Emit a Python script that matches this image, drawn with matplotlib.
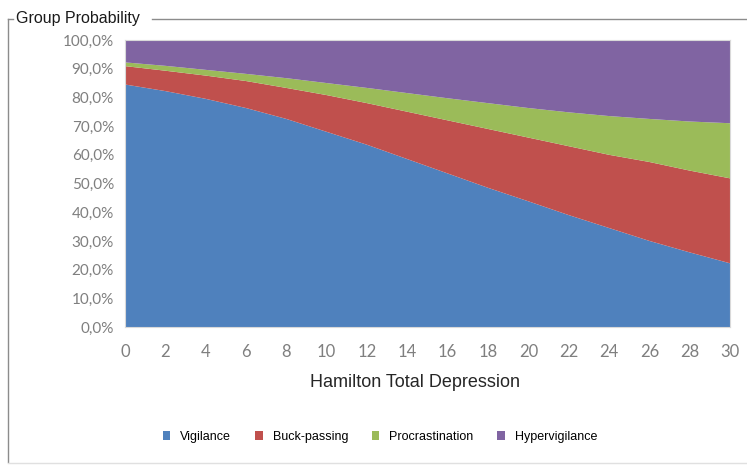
import numpy as np
import matplotlib.pyplot as plt
from matplotlib.lines import Line2D
from matplotlib.patches import Patch

# values (percent of group probability)
depression = [0, 2, 4, 6, 8, 10, 12, 14, 16, 18, 20, 22, 24, 26, 28, 30]
vigilance = [84.5, 82.2, 79.5, 76.3, 72.5, 68.0, 63.5, 58.5, 53.5, 48.5, 43.8, 39.0, 34.5, 30.0, 26.0, 22.2]
buck_passing = [6.4, 7.1, 8.1, 9.4, 10.8, 12.8, 14.5, 16.5, 18.5, 20.5, 22.2, 24.0, 25.5, 27.5, 28.5, 29.6]
procrastination = [1.3, 1.7, 2.0, 2.5, 3.4, 4.2, 5.3, 6.5, 7.7, 9.0, 10.3, 11.8, 13.5, 15.0, 17.1, 19.2]
hypervigilance = [7.8, 9.0, 10.4, 11.8, 13.3, 15.0, 16.7, 18.5, 20.3, 22.0, 23.7, 25.2, 26.5, 27.5, 28.4, 29.0]

labels = ["Vigilance", "Buck-passing", "Procrastination", "Hypervigilance"]
colors = ["#4F81BD", "#C0504D", "#9BBB59", "#8064A2"]

fig = plt.figure(figsize=(7.47, 4.66), dpi=100)
ax = fig.add_axes([125 / 747, 1 - 327 / 466, 605 / 747, 287 / 466])

ax.stackplot(depression, vigilance, buck_passing, procrastination, hypervigilance,
             colors=colors, linewidth=0)

ax.set_xlim(0, 30)
ax.set_ylim(0, 100)
ax.set_xticks(range(0, 31, 2))
ax.set_yticks(range(0, 101, 10))
ax.set_yticklabels([f"{v},0%" for v in range(0, 101, 10)])
ax.tick_params(length=0, colors="#7f7f7f", labelsize=11, pad=8)
ax.tick_params(axis="x", labelsize=12, pad=12)
for lab in ax.get_xticklabels() + ax.get_yticklabels():
    lab.set_family("Lato")
for s in ax.spines.values():
    s.set_color("#d9d9d9")
    s.set_linewidth(0.8)

ax.set_xlabel("Hamilton Total Depression", fontsize=13, family="Liberation Sans",
              color="#262626", labelpad=12)
ax.xaxis.set_label_coords((415 - 125) / 605, -0.165)

# outer frame around the chart
frame = dict(color="#8c8c8c", linewidth=1.0, transform=fig.transFigure)
fig.add_artist(Line2D([8 / 747, 8 / 747], [1 - 19 / 466, 1 - 462 / 466], **frame))
fig.add_artist(Line2D([8 / 747, 13 / 747], [1 - 19 / 466, 1 - 19 / 466], **frame))
fig.add_artist(Line2D([152 / 747, 1.0], [1 - 19 / 466, 1 - 19 / 466], **frame))
fig.add_artist(Line2D([8 / 747, 1.0], [1 - 463 / 466, 1 - 463 / 466],
                      color="#e0e0e0", linewidth=1.0, transform=fig.transFigure))
fig.text(16 / 747, 1 - 19 / 466, "Group Probability", fontsize=11.5,
         family="Liberation Sans", color="#1a1a1a", va="center", ha="left")

handles = [Patch(facecolor=c, edgecolor="none") for c in colors]
fig.legend(handles, labels, loc="center", bbox_to_anchor=(380 / 747, 1 - 437 / 466),
           ncol=4, frameon=False, handlelength=0.6, handleheight=0.7,
           columnspacing=1.9, handletextpad=0.8,
           prop={"family": "Liberation Sans", "size": 9})

fig.savefig("out.png", dpi=100, facecolor="white")
